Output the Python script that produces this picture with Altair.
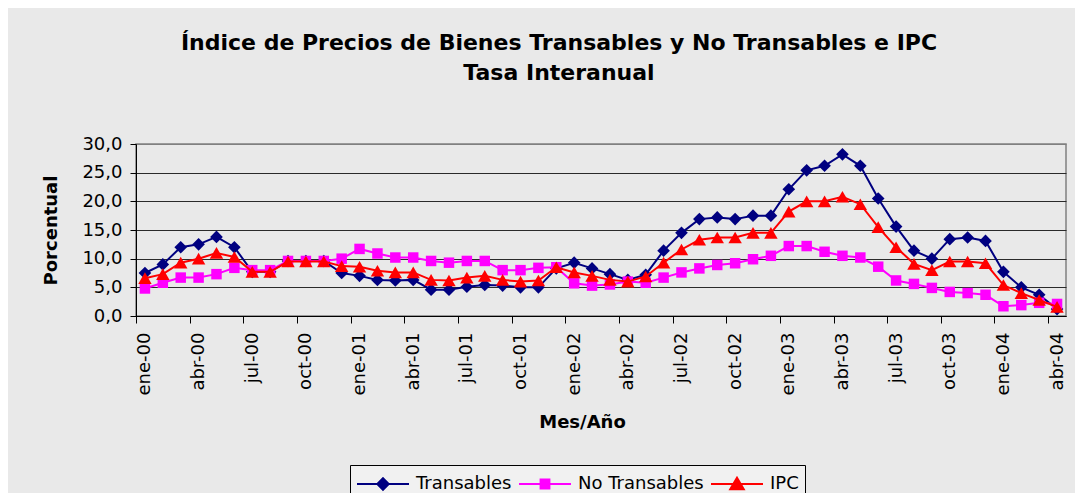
import altair as alt
import pandas as pd

# ---------------- data ----------------
meses = ["ene", "feb", "mar", "abr", "may", "jun", "jul", "ago", "sep", "oct", "nov", "dic"]
anios = ["00", "01", "02", "03", "04"]
periodos = [f"{m}-{a}" for a in anios for m in meses][:52]  # ene-00 .. abr-04

etiquetas = ["ene-00", "abr-00", "jul-00", "oct-00",
             "ene-01", "abr-01", "jul-01", "oct-01",
             "ene-02", "abr-02", "jul-02", "oct-02",
             "ene-03", "abr-03", "jul-03", "oct-03",
             "ene-04", "abr-04"]

transables = [7.5, 9.0, 12.0, 12.5, 13.8, 12.0, 7.7, 7.7, 9.6, 9.6, 9.6, 7.5,
              7.0, 6.3, 6.2, 6.3, 4.6, 4.6, 5.1, 5.4, 5.3, 5.0, 5.0, 8.3,
              9.3, 8.3, 7.3, 6.3, 7.2, 11.4, 14.5, 16.9, 17.2, 16.9, 17.5, 17.5,
              22.1, 25.4, 26.2, 28.2, 26.2, 20.5, 15.6, 11.4, 10.0, 13.4, 13.7, 13.1,
              7.7, 5.0, 3.7, 1.2]

no_transables = [4.8, 5.8, 6.7, 6.7, 7.3, 8.4, 8.0, 8.0, 9.6, 9.6, 9.6, 10.0,
                 11.7, 10.9, 10.2, 10.2, 9.6, 9.3, 9.6, 9.6, 8.0, 8.0, 8.4, 8.5,
                 5.7, 5.3, 5.5, 6.0, 5.8, 6.7, 7.6, 8.3, 8.9, 9.2, 9.9, 10.5,
                 12.2, 12.2, 11.2, 10.5, 10.2, 8.6, 6.2, 5.6, 4.9, 4.2, 4.0, 3.7,
                 1.7, 1.9, 2.3, 2.1]

ipc = [6.6, 7.3, 9.3, 10.0, 11.0, 10.3, 7.7, 7.7, 9.5, 9.5, 9.5, 8.7,
       8.6, 7.9, 7.6, 7.6, 6.3, 6.2, 6.7, 7.0, 6.3, 6.0, 6.2, 8.5,
       7.6, 7.0, 6.3, 6.0, 6.9, 9.3, 11.6, 13.3, 13.7, 13.7, 14.5, 14.5,
       18.2, 20.0, 20.0, 20.8, 19.5, 15.5, 12.0, 9.1, 8.0, 9.5, 9.5, 9.2,
       5.4, 4.0, 2.8, 1.6]

series = ["Transables", "No Transables", "IPC"]
colores = ["#000080", "#FF00FF", "#FF0000"]
formas = ["diamond", "square", "triangle-up"]
tamanos = [160, 110, 180]
leyenda_formas = [
    "M-1,0H1M0,-0.22L0.22,0L0,0.22L-0.22,0Z",
    "M-1,0H1M-0.17,-0.17H0.17V0.17H-0.17Z",
    "M-1,0H1M0,-0.24L0.26,0.2H-0.26Z",
]

rows = []
for nombre, vals in zip(series, [transables, no_transables, ipc]):
    for i, v in enumerate(vals):
        rows.append({"pos": i + 0.5, "periodo": periodos[i], "serie": nombre, "valor": v})
df = pd.DataFrame(rows)

FONT = "DejaVu Sans"

xscale = alt.Scale(domain=[0, 52], nice=False, zero=False)
yscale = alt.Scale(domain=[0, 30], nice=False, zero=True)

y_enc = alt.Y(
    "valor:Q",
    scale=yscale,
    axis=alt.Axis(
        values=[0, 5, 10, 15, 20, 25, 30],
        labelExpr="replace(format(datum.value, '.1f'), '.', ',')",
        labelFont=FONT, labelFontSize=18, labelColor="black", labelPadding=8,
        tickSize=6, tickColor="black", domainColor="black", domainWidth=1,
        grid=True,
        gridColor={"condition": {"test": "datum.value >= 30", "value": "#808080"}, "value": "#2a2a2a"},
        gridWidth=1,
        title="Porcentual", titleFont=FONT, titleFontSize=18, titleFontWeight="bold",
        titleColor="black", titleAngle=270, titleX=-85, titleY=86,
        titleBaseline="middle", titleAlign="center",
    ),
)

tick_axis = alt.Axis(
    orient="bottom", values=list(range(0, 52, 3)), labels=False, ticks=True,
    tickSize=7, tickColor="black", domainColor="black", domainWidth=1, grid=False,
    title="Mes/Año", titleFont=FONT, titleFontSize=18, titleFontWeight="bold",
    titleColor="black", titleX=446, titleY=111, titleBaseline="alphabetic",
    titleAlign="center",
)

lista_js = "[" + ",".join(f"'{e}'" for e in etiquetas) + "]"
label_axis = alt.Axis(
    orient="bottom", values=[0.5 + 3 * k for k in range(len(etiquetas))],
    labelExpr=f"{lista_js}[floor(datum.value / 3)]",
    labelAngle=270, labelFont=FONT, labelFontSize=18, labelColor="black",
    labelPadding=16, ticks=False, domain=False, grid=False, title=None,
    labelOverlap=False,
)

base = alt.Chart(df)
layers = []
for k, (nombre, col, forma, tam) in enumerate(zip(series, colores, formas, tamanos)):
    sub = base.transform_filter(alt.datum.serie == nombre)
    x_line = alt.X("pos:Q", scale=xscale, axis=tick_axis if k == 0 else None)
    x_pt = alt.X("pos:Q", scale=xscale, axis=label_axis if k == 0 else None)
    layers.append(sub.mark_line(color=col, strokeWidth=2).encode(x=x_line, y=y_enc))
    layers.append(
        sub.mark_point(filled=True, shape=forma, size=tam, color=col, opacity=1).encode(x=x_pt, y=y_enc)
    )

leg = alt.Legend(
    title=None, orient="none", legendX=214, legendY=321, direction="horizontal",
    columns=3, symbolSize=2704, symbolStrokeWidth=2, labelFont=FONT,
    labelFontSize=18, labelColor="black", labelOffset=6, columnPadding=6,
    strokeColor="black", fillColor="#f1f1f1", padding=6, clipHeight=26,
)
legend_layer = base.transform_filter("datum.valor < -1000").mark_point(
    filled=True, size=2704, strokeWidth=2, opacity=1
).encode(
    x=alt.X("pos:Q", scale=xscale, axis=None),
    y=y_enc,
    color=alt.Color("serie:N", scale=alt.Scale(domain=series, range=colores), legend=leg),
    stroke=alt.Stroke("serie:N", scale=alt.Scale(domain=series, range=colores), legend=leg),
    shape=alt.Shape("serie:N", scale=alt.Scale(domain=series, range=leyenda_formas), legend=leg),
)
layers.append(legend_layer)

chart = alt.layer(*layers).resolve_axis(x="independent").properties(
    width=930,
    height=172,
    autosize="none",
    padding={"left": 128, "top": 136, "right": 9, "bottom": 177},
    background="#e9e9e9",
    title=alt.TitleParams(
        ["Índice de Precios de Bienes Transables y No Transables e IPC", "Tasa Interanual"],
        font=FONT, fontSize=22, fontWeight="bold", color="black",
        anchor="middle", dx=-42, offset=50, lineHeight=30,
    ),
).configure_view(stroke="#808080", strokeWidth=1.5)

chart.save("out.html", embed_options={"renderer": "svg", "actions": False})
